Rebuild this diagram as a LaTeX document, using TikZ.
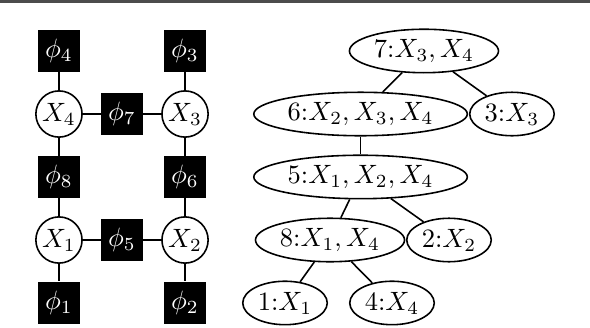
\documentclass[tikz,border=0pt]{standalone}
\usetikzlibrary{shapes.geometric}
\begin{document}
\begin{tikzpicture}[
        var/.style={circle,draw,semithick,inner sep=0.8pt,minimum size=16.6pt},
        factor/.style={rectangle,fill=black,text=white,inner sep=1pt,minimum size=15.8pt},
        clique/.style={ellipse,draw,semithick,inner sep=1pt,minimum height=16.4pt},
        link/.style={semithick}]
        \useasboundingbox (0,0) rectangle (7.825,4.35);
        \fill[black!70] (0,4.31) rectangle (7.825,4.35);

        % factor graph
        \node[var] (x4) at (0.782,2.838) {\(X_4\)};
        \node[var] (x3) at (2.454,2.838) {\(X_3\)};
        \node[var] (x1) at (0.782,1.167) {\(X_1\)};
        \node[var] (x2) at (2.454,1.167) {\(X_2\)};

        \node[factor] (f4) at (0.782,3.674) {\(\phi_4\)};
        \node[factor] (f3) at (2.454,3.674) {\(\phi_3\)};
        \node[factor] (f7) at (1.618,2.838) {\(\phi_7\)};
        \node[factor] (f8) at (0.782,2.003) {\(\phi_8\)};
        \node[factor] (f6) at (2.454,2.003) {\(\phi_6\)};
        \node[factor] (f5) at (1.618,1.167) {\(\phi_5\)};
        \node[factor] (f1) at (0.782,0.332) {\(\phi_1\)};
        \node[factor] (f2) at (2.454,0.332) {\(\phi_2\)};

        \foreach \a/\b in {f4/x4,f3/x3,x4/f7,f7/x3,x4/f8,x3/f6,f8/x1,f6/x2,x1/f5,f5/x2,x1/f1,x2/f2}
        \draw[link] (\a) -- (\b);

        % clique tree
        \node[clique] (c7) at (5.623,3.674) {7:\(X_3, X_4\)};
        \node[clique] (c6) at (4.782,2.838) {6:\(X_2, X_3, X_4\)};
        \node[clique] (c3) at (6.790,2.838) {3:\(X_3\)};
        \node[clique] (c5) at (4.782,2.003) {5:\(X_1, X_2, X_4\)};
        \node[clique] (c8) at (4.377,1.167) {8:\(X_1, X_4\)};
        \node[clique] (c2) at (5.955,1.167) {2:\(X_2\)};
        \node[clique] (c1) at (3.780,0.332) {1:\(X_1\)};
        \node[clique] (c4) at (5.199,0.332) {4:\(X_4\)};

        \foreach \a/\b in {c7/c6,c7/c3,c6/c5,c5/c8,c5/c2,c8/c1,c8/c4}
        \draw[link] (\a) -- (\b);
    \end{tikzpicture}
\end{document}
